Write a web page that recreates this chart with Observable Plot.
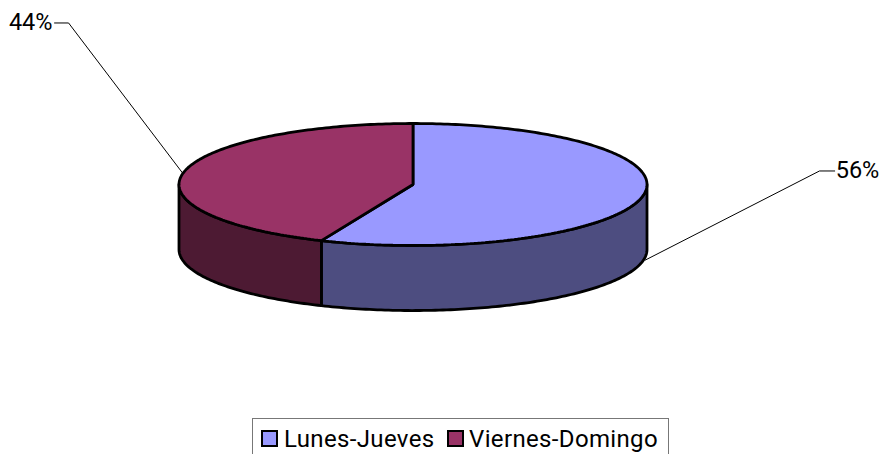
<!DOCTYPE html>
<html><head><meta charset="utf-8">
<script src="https://cdn.jsdelivr.net/npm/d3@7"></script>
<script src="https://cdn.jsdelivr.net/npm/@observablehq/plot@0.6"></script>
<style>
html,body{margin:0;padding:0;background:#fff;overflow:hidden}
#legend{box-sizing:border-box;margin-left:252px;width:417px;height:36px;border:1px solid #777;border-bottom:none;position:relative;font:24px Roboto,sans-serif;letter-spacing:.35px;color:#000;white-space:nowrap;overflow:hidden}
#legend i{position:absolute;top:11px;box-sizing:border-box;width:17px;height:17px;border:2.5px solid #000}
#legend span{position:absolute;top:2px;line-height:36px}
svg{display:block}
</style></head><body>
<div id="chart"></div><div id="legend"></div>
<script>
const categories = ["Lunes-Jueves", "Viernes-Domingo"];
const shares = [56.4, 43.6];
const topColors = ["#9999ff", "#993366"];
const sideColors = ["#4d4d80", "#4d1a33"];
const depth = 1.066;            // wall height, in units of the y scale
const leaderU = [[0.991, 1.735, 1.80], [-0.987, -1.474, -1.534]];
const leaderV = [[-1.23, 0.23, 0.23], [0.197, 2.656, 2.656]];
const swatchLeft = [8, 194];
const textLeft = [31, 216];

// cumulative angle, clockwise from 12 o'clock
const total = d3.sum(shares);
const sweep = (a, b) => {
  const n = Math.max(2, Math.ceil((b - a) * 60));
  return Array.from({length: n + 1}, (_, i) => a + (b - a) * i / n);
};
const pt = t => ({u: Math.sin(t), v: Math.cos(t)});
const bounds = shares.map((_, i) => [d3.sum(shares.slice(0, i)), d3.sum(shares.slice(0, i + 1))].map(v => v / total * 2 * Math.PI));

const slices = bounds.map(([a, b]) => sweep(a, b).map(pt));
// only the part of the rim facing the viewer has a visible wall
const walls = bounds.map(([a0, b0]) => {
  const a = Math.max(a0, Math.PI / 2), b = Math.min(b0, 3 * Math.PI / 2);
  return b > a ? sweep(a, b).map(pt) : [];
});

const marks = [];
walls.forEach((w, i) => marks.push(Plot.area(w, {
  x1: "u", y1: "v", x2: "u", y2: d => d.v - depth,
  fill: sideColors[i], stroke: "#000", strokeWidth: 2.8, strokeLinejoin: "round"
})));
slices.forEach((s, i) => marks.push(Plot.area(s, {
  x1: () => 0, y1: () => 0, x2: "u", y2: "v",
  fill: topColors[i], stroke: "#000", strokeWidth: 2.8, strokeLinejoin: "miter"
})));
shares.forEach((v, i) => {
  const pts = leaderU[i].map((u, k) => ({u, v: leaderV[i][k]}));
  marks.push(Plot.line(pts, {x: "u", y: "v", stroke: "#000", strokeWidth: 1}));
  const end = pts[pts.length - 1];
  marks.push(Plot.text([end], {
    x: "u", y: "v", text: () => Math.round(v) + "%",
    textAnchor: i === 0 ? "start" : "end", dx: i === 0 ? 1 : -2, dy: -1,
    fontSize: 23.5, fontFamily: "Roboto", fill: "#000"
  }));
});

const chart = Plot.plot({
  width: 882, height: 418, margin: 0,
  x: {domain: [-1, 1], range: [179, 647], axis: null},
  y: {domain: [1, -1], range: [123.5, 245.5], axis: null},
  marks
});
document.getElementById("chart").append(chart);

const legend = document.getElementById("legend");
categories.forEach((c, i) => {
  const sw = document.createElement("i");
  sw.style.background = topColors[i];
  sw.style.left = swatchLeft[i] + "px";
  const t = document.createElement("span");
  t.textContent = c;
  t.style.left = textLeft[i] + "px";
  legend.append(sw, t);
});
</script>
</body></html>
